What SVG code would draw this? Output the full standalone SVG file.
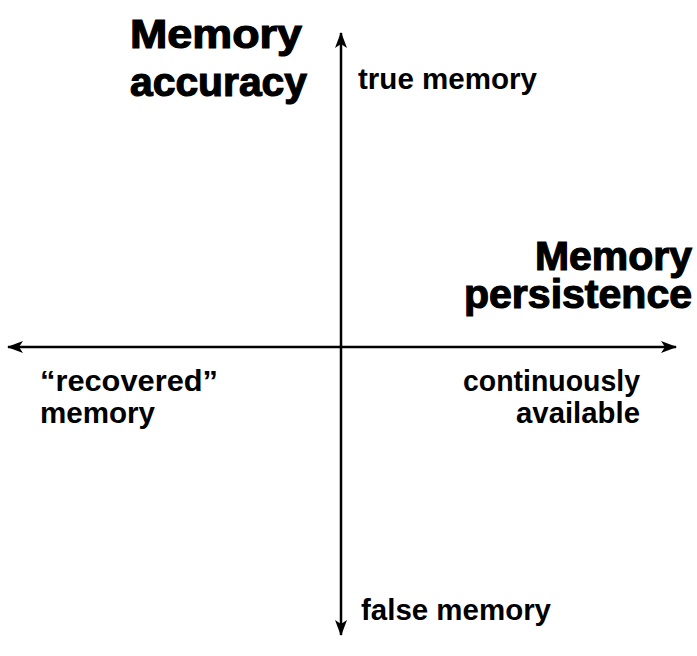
<svg xmlns="http://www.w3.org/2000/svg" width="697" height="656" viewBox="0 0 697 656">
<style>
.title{font-family:"Liberation Sans",Arial,sans-serif;font-weight:bold;font-size:40px;fill:#000;stroke:#000;stroke-width:1.2px}
.label{font-family:"Liberation Sans",Arial,sans-serif;font-weight:bold;font-size:29px;fill:#000}
.axis{stroke:#000;stroke-width:2.5;fill:none}
</style>
<defs>
<marker id="arrow" viewBox="0 0 16 12" refX="15" refY="6" markerWidth="16" markerHeight="12" markerUnits="userSpaceOnUse" orient="auto-start-reverse">
<path d="M0,0 L16,6 L0,12 L4,6 Z" fill="#000"/>
</marker>
</defs>
<rect width="697" height="656" fill="#fff"/>
<g id="connectors">
<line class="axis" x1="341" y1="33" x2="341" y2="635" marker-start="url(#arrow)" marker-end="url(#arrow)"/>
<line class="axis" x1="8" y1="347" x2="676" y2="347" marker-start="url(#arrow)" marker-end="url(#arrow)"/>
</g>
<g id="memory-accuracy">
<text class="title" x="130" y="48" textLength="172" lengthAdjust="spacingAndGlyphs">Memory</text>
<text class="title" x="130" y="96" textLength="177" lengthAdjust="spacingAndGlyphs">accuracy</text>
</g>
<g id="memory-persistence">
<text class="title" x="535" y="270" textLength="157" lengthAdjust="spacingAndGlyphs">Memory</text>
<text class="title" x="464" y="308" textLength="228" lengthAdjust="spacingAndGlyphs">persistence</text>
</g>
<g id="true-memory">
<text class="label" x="358" y="89" textLength="179" lengthAdjust="spacingAndGlyphs">true memory</text>
</g>
<g id="false-memory">
<text class="label" x="361" y="620" textLength="190" lengthAdjust="spacingAndGlyphs">false memory</text>
</g>
<g id="recovered-memory">
<text class="label" x="40" y="391" textLength="178" lengthAdjust="spacingAndGlyphs">“recovered”</text>
<text class="label" x="40" y="423" textLength="115" lengthAdjust="spacingAndGlyphs">memory</text>
</g>
<g id="continuously-available">
<text class="label" x="463" y="391" textLength="177" lengthAdjust="spacingAndGlyphs">continuously</text>
<text class="label" x="516" y="423" textLength="124" lengthAdjust="spacingAndGlyphs">available</text>
</g>
</svg>
